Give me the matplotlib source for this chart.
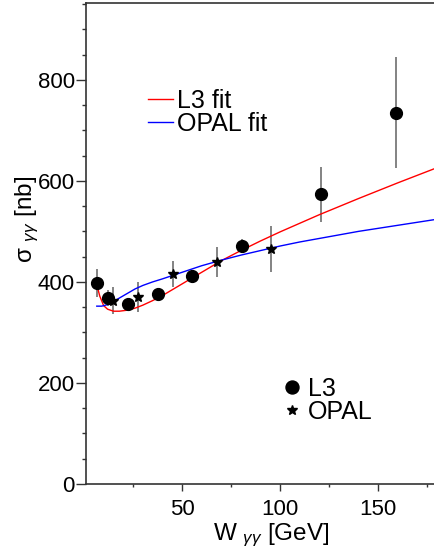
import matplotlib
matplotlib.use("Agg")
import matplotlib.pyplot as plt
from matplotlib.ticker import MultipleLocator, FixedLocator

plt.rcParams['font.family'] = ['Liberation Sans', 'DejaVu Sans']
plt.rcParams['mathtext.fontset'] = 'custom'
plt.rcParams['mathtext.rm'] = 'Liberation Sans'
plt.rcParams['mathtext.it'] = 'Liberation Sans:italic'

# L3 measurements
l3_w = [6.8, 12.4, 22.6, 37.6, 54.9, 80.4, 120.7, 159.2]
l3_sigma = [398, 368, 356, 376, 412, 472, 573, 735]
l3_err = [28, 15, 12, 12, 10, 12, 54, 110]

# OPAL measurements
opal_w = [15.0, 27.3, 45.2, 67.7, 95.3]
opal_sigma = [363, 370, 415, 440, 465]
opal_err = [27, 29, 26, 30, 45]

# fitted curves
l3_fit_w = [6.5, 8, 10, 12, 15, 18, 22, 26, 30, 35, 40, 50, 60, 70, 80, 90,
            100, 110, 120, 140, 160, 180]
l3_fit_sigma = [395, 372, 353, 346, 342, 342, 344, 348, 354, 363, 373, 396,
                419, 442, 462, 481, 499, 516, 533, 565, 596, 626]
opal_fit_w = [6.5, 9, 12, 15, 18, 22, 26, 30, 35, 40, 50, 60, 70, 80, 90,
              100, 110, 120, 140, 160, 180]
opal_fit_sigma = [352, 352, 355, 361, 368, 377, 386, 393, 400, 406, 419, 432,
                  443, 453, 462, 471, 479, 486, 500, 512, 524]

W, H = 435, 557
fig = plt.figure(figsize=(W / 100, H / 100), dpi=100)
ax = fig.add_axes([86 / W, 73 / H, 1 - 86 / W, 481 / H])

ax.plot(l3_fit_w, l3_fit_sigma, color='red', lw=1.0, label='L3 fit', zorder=3)
ax.plot(opal_fit_w, opal_fit_sigma, color='blue', lw=1.0, label='OPAL fit', zorder=3)

ax.errorbar(l3_w, l3_sigma, yerr=l3_err, fmt='none', ecolor='#6e6e6e',
            elinewidth=1.2, capsize=0, zorder=2)
ax.errorbar(opal_w, opal_sigma, yerr=opal_err, fmt='none', ecolor='#6e6e6e',
            elinewidth=1.2, capsize=0, zorder=2)
pts_l3, = ax.plot(l3_w, l3_sigma, 'o', color='black', ms=8.5, ls='none', zorder=4)
pts_opal, = ax.plot(opal_w, opal_sigma, '*', color='black', ms=7, ls='none', zorder=4)

ax.set_xlim(1, 179)
ax.set_ylim(0, 952)

ax.xaxis.set_major_locator(FixedLocator([50, 100, 150]))
ax.xaxis.set_minor_locator(FixedLocator([25, 75, 125, 175]))
ax.yaxis.set_major_locator(MultipleLocator(200))
ax.yaxis.set_minor_locator(MultipleLocator(50))

ax.tick_params(axis='both', which='both', direction='out', colors='#333333',
               labelcolor='black', labelsize=16)
ax.tick_params(axis='x', which='major', length=5, width=1, pad=6)
ax.tick_params(axis='x', which='minor', length=2.5, width=1)
ax.tick_params(axis='y', which='major', length=7, width=1, pad=1)
ax.tick_params(axis='y', which='minor', length=3, width=1)

for side in ('left', 'bottom', 'top'):
    ax.spines[side].set_color('#333333')
    ax.spines[side].set_linewidth(1.2)
ax.spines['right'].set_visible(False)

ax.set_xlabel(r"W $_{\gamma\gamma}$ [GeV]", fontsize=17.5)
ax.set_ylabel(r"σ $_{\gamma\gamma}$ [nb]", fontsize=17.5)
ax.xaxis.set_label_coords(0.53, -0.078)
ax.yaxis.set_label_coords(-0.13, 0.55)

fit_leg = ax.legend(loc='upper left', bbox_to_anchor=(148 / W, 1 - 89 / H),
                    bbox_transform=fig.transFigure, frameon=False, fontsize=18,
                    handlelength=1.0, handletextpad=0.15, labelspacing=-0.05,
                    borderpad=0, borderaxespad=0)
ax.add_artist(fit_leg)

ax.legend([pts_l3, pts_opal], ['L3', 'OPAL'], loc='upper left',
          bbox_to_anchor=(284 / W, 1 - 377 / H), bbox_transform=fig.transFigure,
          frameon=False, fontsize=18, handlelength=0.6, handletextpad=0.35,
          labelspacing=-0.05, borderpad=0, borderaxespad=0, markerscale=1.1)

fig.savefig('out.png', dpi=100)
